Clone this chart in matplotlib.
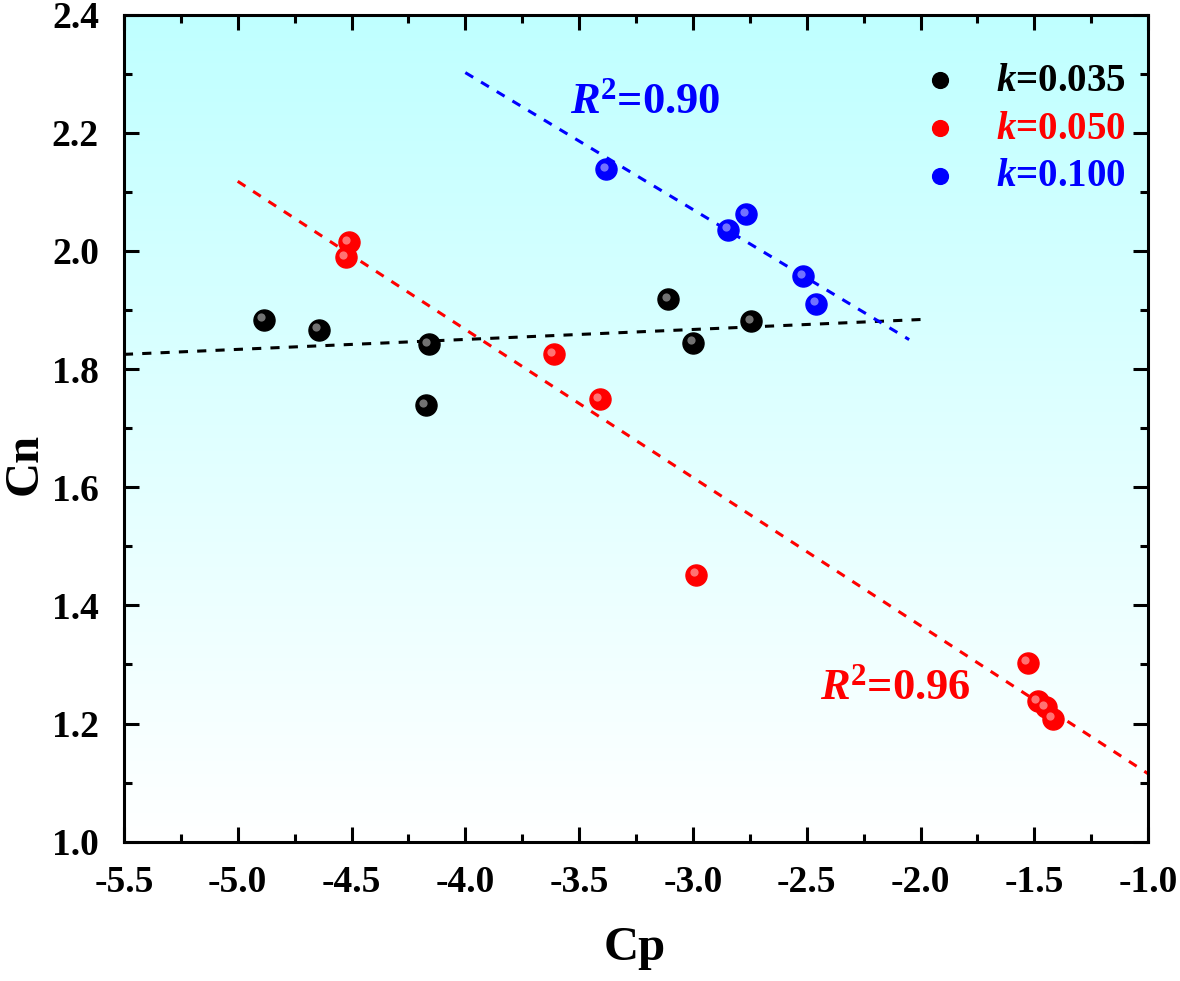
import matplotlib
matplotlib.use("Agg")
import matplotlib.pyplot as plt
import numpy as np

plt.rcParams["font.family"] = ["Liberation Serif", "DejaVu Serif"]
plt.rcParams["font.weight"] = "bold"
plt.rcParams["mathtext.fontset"] = "custom"
plt.rcParams["mathtext.rm"] = "Liberation Serif:bold"
plt.rcParams["mathtext.bf"] = "Liberation Serif:bold"
plt.rcParams["mathtext.it"] = "Liberation Serif:italic:bold"
plt.rcParams["mathtext.bfit"] = "Liberation Serif:italic:bold"

# data
cp_k035 = [-4.885, -4.644, -4.161, -4.174, -3.108, -2.998, -2.743]
cn_k035 = [1.884, 1.867, 1.842, 1.739, 1.918, 1.845, 1.881]

cp_k050 = [-4.512, -4.525, -3.612, -3.410, -2.985, -1.527, -1.483, -1.448, -1.417]
cn_k050 = [2.015, 1.989, 1.825, 1.749, 1.452, 1.303, 1.238, 1.228, 1.208]

cp_k100 = [-3.380, -2.844, -2.765, -2.515, -2.458]
cn_k100 = [2.138, 2.036, 2.062, 1.957, 1.911]

# fitted lines: ([x start, x end], [y start, y end])
fit_k035 = ([-5.5, -2.0], [1.825, 1.884])
fit_k050 = ([-5.0, -1.0], [2.118, 1.115])
fit_k100 = ([-4.0, -2.05], [2.302, 1.850])

labels = ["0.035", "0.050", "0.100"]
colors = ["black", "red", "blue"]

fig, ax = plt.subplots(figsize=(11.8, 9.81), dpi=100)
fig.subplots_adjust(left=0.105, right=0.973, top=0.985, bottom=0.142)

# cyan (top) to white (bottom) background
grad = np.linspace(0, 1, 256).reshape(-1, 1, 1)
top_col = np.array([0.75, 1.0, 1.0])
bg = (1 - grad) * top_col + grad * np.ones(3)
ax.imshow(bg, extent=[-5.5, -1.0, 1.0, 2.4], origin="upper",
          aspect="auto", zorder=0)

fits = [fit_k035, fit_k050, fit_k100]
series = [(cp_k035, cn_k035), (cp_k050, cn_k050), (cp_k100, cn_k100)]
for (xs, ys), (fx, fy), c, lab in zip(series, fits, colors, labels):
    ax.plot(fx, fy, ls=(0, (3, 3)), color=c, lw=2.2, zorder=2)
    ax.scatter(xs, ys, s=230, color=c, edgecolors=c, zorder=3,
               label=r"$\mathbfit{k}$=" + lab)
    # little highlight for the sphere look
    ax.scatter(np.array(xs) - 0.012, np.array(ys) + 0.004, s=35,
               color="white", alpha=0.45, lw=0, zorder=4)

ax.text(-3.54, 2.252, r"$\mathbfit{R}^{\mathbf{2}}$=0.90", color="blue",
        fontsize=32, ha="left", va="center")
ax.text(-2.44, 1.259, r"$\mathbfit{R}^{\mathbf{2}}$=0.96", color="red",
        fontsize=32, ha="left", va="center")

ax.set_xlim(-5.5, -1.0)
ax.set_ylim(1.0, 2.4)
ax.set_xticks(np.arange(-5.5, -0.99, 0.5))
ax.set_xticks(np.arange(-5.25, -1.0, 0.5), minor=True)
ax.set_yticks(np.arange(1.0, 2.41, 0.2))
ax.set_yticks(np.arange(1.1, 2.4, 0.2), minor=True)
ax.set_xticklabels([f"{v:.1f}" for v in np.arange(-5.5, -0.99, 0.5)])
ax.set_yticklabels([f"{v:.1f}" for v in np.arange(1.0, 2.41, 0.2)])
ax.tick_params(which="both", direction="in", top=True, right=True,
               labelsize=27, width=2.2)
ax.tick_params(which="major", length=11)
ax.tick_params(which="minor", length=5.5)
ax.tick_params(axis="x", which="major", pad=17)
ax.tick_params(axis="y", which="major", pad=18)
for sp in ax.spines.values():
    sp.set_linewidth(2.2)

ax.set_xlabel("Cp", fontsize=35, fontweight="bold")
ax.set_ylabel("Cn", fontsize=35, fontweight="bold")
ax.xaxis.set_label_coords(0.499, -0.102)
ax.yaxis.set_label_coords(-0.075, 0.457)

leg = ax.legend(loc="upper right", frameon=False, fontsize=28,
                handletextpad=0.45, borderaxespad=0.3, labelspacing=0.28,
                markerscale=0.75, bbox_to_anchor=(1.005, 0.975))
for txt, c in zip(leg.get_texts(), colors):
    txt.set_color(c)

fig.savefig("out.png", dpi=100)
